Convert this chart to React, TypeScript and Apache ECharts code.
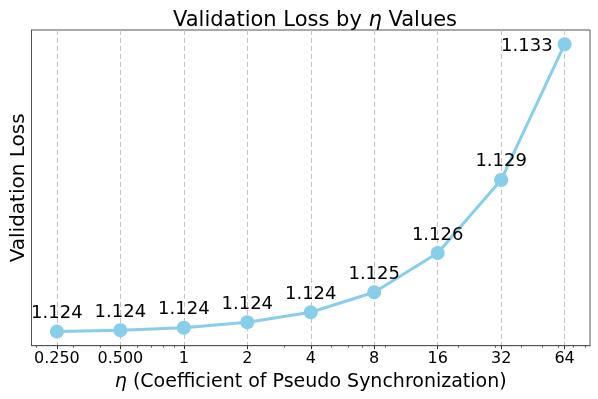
import React, { useEffect, useRef } from "react";
import * as echarts from "echarts";

const etaValues = [0.25, 0.5, 1, 2, 4, 8, 16, 32, 64];
const lossValues = [1.123787, 1.123829, 1.123905, 1.124084, 1.124404, 1.125044, 1.126304, 1.128649, 1.133];
const minorTickValues = [0.2, 0.3, 0.4, 0.6, 0.7, 0.8, 0.9, 3, 5, 6, 7, 9, 20, 30, 40, 50, 60, 70, 80];
const xMin = 0.18946;
const xMax = 84.449;
const yMin = 1.12333;
const yMax = 1.13346;

const FONT = "DejaVu Sans";

export default function App() {
  const ref = useRef<HTMLDivElement>(null);
  useEffect(() => {
    if (!ref.current) return;
    const chart = echarts.init(ref.current, undefined, { renderer: "svg" });
    const lastIdx = etaValues.length - 1;
    const data = etaValues.map((e, i) => {
      const item: any = { value: [e, lossValues[i]] };
      if (i === lastIdx) {
        item.label = { position: "left", distance: 5 };
      }
      return item;
    });
    chart.setOption({
      animation: false,
      title: {
        text: "{n|Validation Loss by }{i|η}{n| Values}",
        left: 310,
        textAlign: "center",
        top: 3,
        textStyle: {
          fontWeight: "normal",
          rich: {
            n: { fontFamily: FONT, fontSize: 21, fontWeight: "normal", color: "#000" },
            i: { fontFamily: FONT, fontSize: 21, fontWeight: "normal", fontStyle: "italic", color: "#000" },
          },
        },
      },
      grid: {
        left: 31.5,
        right: 8,
        top: 30,
        bottom: 53.3,
        outerBoundsMode: "none",
        containLabel: false,
        show: true,
        borderColor: "#555",
        borderWidth: 1,
        backgroundColor: "transparent",
      },
      xAxis: [
        {
          type: "log",
          logBase: 2,
          min: xMin,
          max: xMax,
          position: "bottom",
          name: "{i|η}{n| (Coefficient of Pseudo Synchronization)}",
          nameLocation: "middle",
          nameGap: 21,
          nameTextStyle: {
            rich: {
              n: { fontFamily: FONT, fontSize: 19, color: "#000" },
              i: { fontFamily: FONT, fontSize: 19, fontStyle: "italic", color: "#000" },
            },
          },
          axisLine: { show: true, lineStyle: { color: "#555", width: 1 } },
          axisTick: { show: true, length: 3.5, lineStyle: { color: "#333", width: 1 } },
          axisLabel: {
            show: true,
            showMinLabel: false,
            showMaxLabel: false,
            margin: 4,
            fontFamily: FONT,
            fontSize: 16,
            color: "#000",
            formatter: (v: number) => (v < 1 ? v.toFixed(3) : String(Math.round(v))),
          },
          splitLine: {
            show: true,
            showMinLine: false,
            showMaxLine: false,
            lineStyle: { color: "#c4c4c4", width: 1, type: [5, 3] },
          },
        },
        {
          type: "log",
          logBase: 2,
          min: xMin,
          max: xMax,
          position: "bottom",
          axisLine: { show: false },
          axisLabel: { show: false },
          splitLine: { show: false },
          axisTick: {
            show: true,
            length: 2,
            customValues: minorTickValues,
            lineStyle: { color: "#333", width: 0.8 },
          },
        },
      ],
      yAxis: {
        type: "value",
        min: yMin,
        max: yMax,
        name: "Validation Loss",
        nameLocation: "middle",
        nameGap: 5,
        nameTextStyle: { fontFamily: FONT, fontSize: 20, color: "#000" },
        axisLine: { show: true, lineStyle: { color: "#555", width: 1 } },
        axisTick: { show: false },
        axisLabel: { show: false },
        splitLine: { show: false },
      },
      series: [
        {
          type: "line",
          xAxisIndex: 0,
          data,
          symbol: "circle",
          symbolSize: 14,
          lineStyle: { color: "#87CEEB", width: 3 },
          itemStyle: { color: "#87CEEB" },
          label: {
            show: true,
            position: "top",
            distance: 4,
            fontFamily: FONT,
            fontSize: 18,
            color: "#000",
            formatter: (p: any) => p.value[1].toFixed(3),
          },
        },
      ],
    });
    return () => chart.dispose();
  }, []);
  return <div ref={ref} style={{ position: "fixed", left: 0, top: 0, width: 598, height: 399 }} />;
}
